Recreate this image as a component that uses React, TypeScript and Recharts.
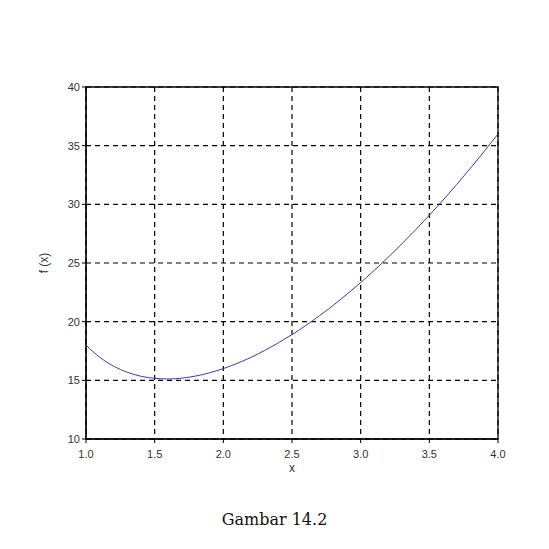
import { LineChart, CartesianGrid, XAxis, YAxis, Line, ReferenceArea, Label } from 'recharts'

const xValues = [1.0, 1.1, 1.2, 1.3, 1.4, 1.5, 1.6, 1.7, 1.8, 1.9, 2.0, 2.1, 2.2, 2.3, 2.4, 2.5,
    2.6, 2.7, 2.8, 2.9, 3.0, 3.1, 3.2, 3.3, 3.4, 3.5, 3.6, 3.7, 3.8, 3.9, 4.0]
const fValues = [18.0, 16.97, 16.21, 15.69, 15.35, 15.17, 15.12, 15.19, 15.37, 15.64, 16.0, 16.44,
    16.95, 17.54, 18.19, 18.9, 19.67, 20.51, 21.39, 22.34, 23.33, 24.38, 25.48, 26.63, 27.83,
    29.07, 30.36, 31.7, 33.09, 34.52, 36.0]
const xTicks = [1.0, 1.5, 2.0, 2.5, 3.0, 3.5, 4.0]
const yTicks = [10, 15, 20, 25, 30, 35, 40]
const caption = 'Gambar 14.2'

const data = xValues.map((x, i) => ({ x, f: fValues[i] }))

const font = 'Liberation Sans, Arial, sans-serif'
const tickStyle = { fontFamily: font, fontSize: 11, fill: '#333' }

export default function App() {
    return (
        <div style={{ position: 'absolute', left: 0, top: 0, width: 549, height: 549, background: '#fff' }}>
            <LineChart width={549} height={549} data={data}
                margin={{ top: 87, right: 51, left: 49, bottom: 70 }}>
                <CartesianGrid stroke='#000' strokeDasharray='5 4' strokeWidth={1.2}
                    horizontalValues={yTicks} verticalValues={xTicks} />
                <XAxis dataKey='x' type='number' domain={[1, 4]} ticks={xTicks} height={40}
                    tickFormatter={(v) => v.toFixed(1)} tick={{ ...tickStyle, dy: 5 }} tickSize={4}
                    axisLine={{ stroke: '#000' }} tickLine={{ stroke: '#000' }} interval={0}>
                    <Label value='x' position='insideBottom' offset={7}
                        style={{ fontFamily: font, fontSize: 12, fill: '#333' }} />
                </XAxis>
                <YAxis type='number' domain={[10, 40]} ticks={yTicks} width={37}
                    tick={tickStyle} tickSize={4} interval={0}
                    axisLine={{ stroke: '#000' }} tickLine={{ stroke: '#000' }}>
                    <Label value='f (x)' angle={-90} position='insideLeft' offset={-5}
                        style={{ fontFamily: font, fontSize: 12, fill: '#333', textAnchor: 'middle' }} />
                </YAxis>
                <ReferenceArea x1={1} x2={4} y1={10} y2={40} fill='none' stroke='#000' strokeWidth={1.3} fillOpacity={0} />
                <Line type='monotone' dataKey='f' stroke='#3a3ac0' strokeWidth={1} dot={false} isAnimationActive={false} />
            </LineChart>
            <div style={{ position: 'absolute', top: 510, left: 0, width: 549, textAlign: 'center',
                fontFamily: 'DejaVu Serif, serif', fontSize: 16, color: '#111' }}>{caption}</div>
        </div>
    )
}
